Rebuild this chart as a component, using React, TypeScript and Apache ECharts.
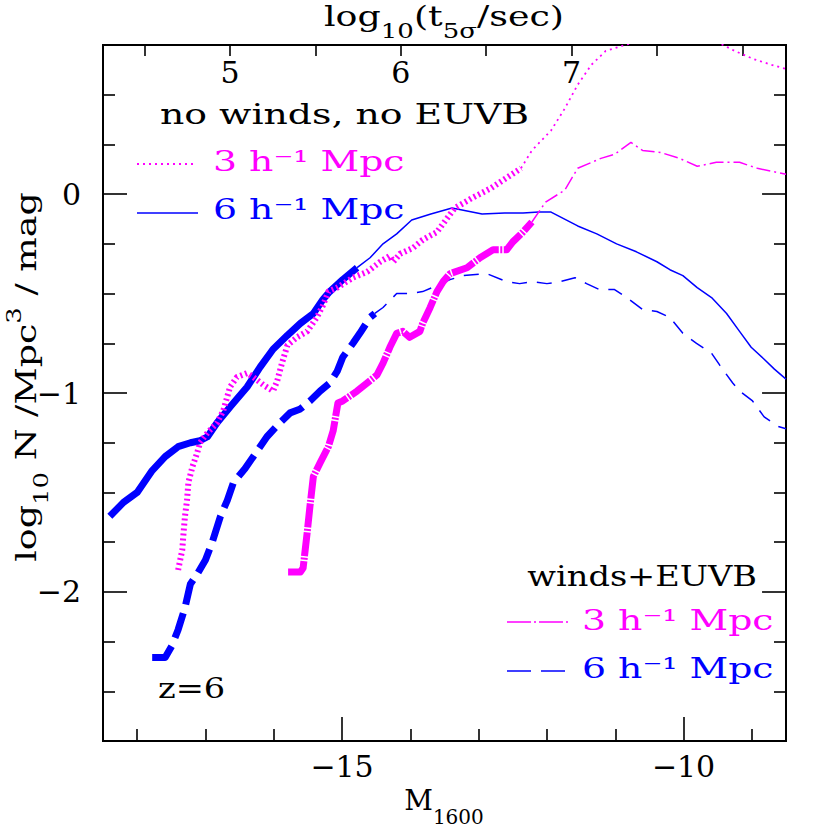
import React, { useEffect, useRef } from 'react';
import * as echarts from 'echarts';

const FONT = '"DejaVu Serif", serif';
const MAGENTA = '#ff00ff';
const BLUE = '#0000ff';

// [M1600, log10 N]  — "no winds, no EUVB", 6 h^-1 Mpc (solid)
const noWinds6Thick = [
  [-18.4, -1.62], [-18.2, -1.55], [-18.0, -1.5], [-17.78, -1.39], [-17.59, -1.32], [-17.4, -1.27],
  [-17.22, -1.25], [-17.08, -1.24], [-16.97, -1.22], [-16.83, -1.15], [-16.64, -1.07], [-16.39, -0.97],
  [-16.2, -0.87], [-16.01, -0.78], [-15.8, -0.71], [-15.61, -0.65], [-15.42, -0.6], [-15.28, -0.53],
  [-15.18, -0.49], [-14.99, -0.43], [-14.78, -0.37],
];
const noWinds6Thin = [
  [-14.78, -0.37], [-14.59, -0.32], [-14.4, -0.25], [-14.2, -0.2], [-13.98, -0.13], [-13.7, -0.1],
  [-13.39, -0.07], [-12.95, -0.1], [-12.62, -0.095], [-12.35, -0.095], [-12.12, -0.09], [-11.94, -0.09],
  [-11.55, -0.16], [-11.27, -0.2], [-10.98, -0.25], [-10.69, -0.29], [-10.39, -0.34], [-10.2, -0.38],
  [-10.01, -0.41], [-9.8, -0.47], [-9.59, -0.52], [-9.37, -0.6], [-9.18, -0.69], [-9.01, -0.77],
  [-8.82, -0.83], [-8.67, -0.88], [-8.5, -0.93],
];
// "winds+EUVB", 6 h^-1 Mpc (dashed)
const winds6Thick = [
  [-17.78, -2.33], [-17.59, -2.33], [-17.49, -2.27], [-17.4, -2.19], [-17.3, -2.08], [-17.22, -1.96],
  [-17.12, -1.91], [-17.0, -1.84], [-16.9, -1.75], [-16.78, -1.62], [-16.68, -1.54], [-16.59, -1.45],
  [-16.42, -1.38], [-16.24, -1.29], [-16.1, -1.22], [-15.91, -1.15], [-15.76, -1.1], [-15.61, -1.08],
  [-15.47, -1.04], [-15.32, -0.99], [-15.18, -0.95], [-15.07, -0.89], [-14.99, -0.82], [-14.84, -0.75],
  [-14.74, -0.7], [-14.59, -0.62], [-14.52, -0.6],
];
const winds6Thin = [
  [-14.52, -0.6], [-14.4, -0.57], [-14.2, -0.5], [-14.01, -0.5], [-13.82, -0.49], [-13.61, -0.46],
  [-13.42, -0.43], [-13.23, -0.41], [-12.88, -0.4], [-12.59, -0.44], [-12.4, -0.45], [-12.21, -0.44],
  [-12.0, -0.45], [-11.81, -0.44], [-11.59, -0.42], [-11.42, -0.45], [-11.23, -0.48], [-11.01, -0.48],
  [-10.83, -0.52], [-10.6, -0.58], [-10.39, -0.59], [-10.2, -0.62], [-10.01, -0.7], [-9.81, -0.75],
  [-9.59, -0.8], [-9.47, -0.86], [-9.28, -0.95], [-9.18, -0.99], [-8.99, -1.04], [-8.82, -1.12],
  [-8.6, -1.17], [-8.5, -1.18],
];
// "no winds, no EUVB", 3 h^-1 Mpc (dotted)
const noWinds3Thick = [
  [-17.4, -1.89], [-17.34, -1.79], [-17.32, -1.7], [-17.3, -1.62], [-17.27, -1.54], [-17.25, -1.45],
  [-17.19, -1.37], [-17.12, -1.3], [-17.08, -1.25], [-16.97, -1.2], [-16.83, -1.15], [-16.74, -1.09],
  [-16.64, -0.97], [-16.54, -0.92], [-16.39, -0.9], [-16.3, -0.92], [-16.15, -0.96], [-16.01, -0.99],
  [-15.95, -0.94], [-15.88, -0.85], [-15.8, -0.76], [-15.66, -0.72], [-15.51, -0.69], [-15.37, -0.62],
  [-15.28, -0.56], [-15.2, -0.49], [-15.07, -0.47], [-14.84, -0.42], [-14.63, -0.39], [-14.44, -0.34],
  [-14.3, -0.31], [-14.25, -0.34], [-14.15, -0.3], [-13.96, -0.27], [-13.82, -0.23], [-13.61, -0.19],
  [-13.35, -0.07], [-13.1, -0.02], [-12.82, 0.03], [-12.6, 0.08], [-12.38, 0.13],
];
const noWinds3Thin = [
  [-12.38, 0.13], [-12.22, 0.22], [-11.94, 0.32], [-11.74, 0.43], [-11.55, 0.55], [-11.35, 0.65],
  [-11.14, 0.72], [-10.86, 0.75], [-10.5, 0.78], [-10.0, 0.79], [-9.6, 0.77], [-9.42, 0.75],
  [-9.25, 0.72], [-8.98, 0.68], [-8.71, 0.65], [-8.5, 0.63],
];
// "winds+EUVB", 3 h^-1 Mpc (dash-dot)
const winds3Thick = [
  [-15.79, -1.9], [-15.61, -1.9], [-15.57, -1.88], [-15.54, -1.79], [-15.51, -1.7], [-15.47, -1.57],
  [-15.42, -1.42], [-15.32, -1.35], [-15.2, -1.27], [-15.13, -1.19], [-15.06, -1.05], [-14.99, -1.04],
  [-14.78, -0.99], [-14.49, -0.91], [-14.4, -0.85], [-14.3, -0.77], [-14.2, -0.7], [-14.11, -0.69],
  [-14.01, -0.72], [-13.86, -0.69], [-13.82, -0.65], [-13.71, -0.57], [-13.61, -0.49], [-13.52, -0.44],
  [-13.42, -0.4], [-13.17, -0.37], [-12.98, -0.32], [-12.79, -0.28], [-12.59, -0.28], [-12.5, -0.24],
  [-12.35, -0.19], [-12.22, -0.14],
];
const winds3Thin = [
  [-12.22, -0.14], [-12.02, -0.04], [-11.74, 0.02], [-11.55, 0.13], [-11.21, 0.18], [-11.01, 0.2],
  [-10.77, 0.26], [-10.6, 0.22], [-10.34, 0.21], [-10.06, 0.18], [-9.8, 0.14], [-9.52, 0.16],
  [-9.18, 0.16], [-8.92, 0.13], [-8.5, 0.1],
];

const xRange = [-18.5, -8.5];
const yRange = [-2.75, 0.75];
const topRange = [4.256, 8.256];
const xMajorTicks = [-15, -10];
const xMinorTicks = [-18, -17, -16, -14, -13, -12, -11, -9];
const yMajorTicks = [0, -1, -2];
const yMinorTicks = [0.5, 0.25, -0.25, -0.5, -0.75, -1.25, -1.5, -1.75, -2.25, -2.5];
const topTicks = [4.5, 5, 5.5, 6, 6.5, 7, 7.5, 8];
const topLabels = [5, 6, 7];

const fmtMinus = (v: number) => (v < 0 ? '\u2212' + Math.abs(v) : String(v));
const AX_LINE = { color: '#000', width: 2 };
const TICK_LINE = { color: '#000', width: 1.6 };
const LABEL = { fontSize: 30, fontFamily: FONT, color: '#000' };

function xAx(position: string, min: number, max: number, ticks: number[], len: number, labels: number[] | null, margin = 10) {
  return {
    type: 'value', position, min, max,
    axisLine: { show: true, onZero: false, lineStyle: AX_LINE },
    axisTick: { show: true, inside: true, length: len, customValues: ticks, lineStyle: TICK_LINE },
    axisLabel: labels
      ? { show: true, customValues: labels, formatter: fmtMinus, margin, inside: position === 'top', ...LABEL }
      : { show: false },
    splitLine: { show: false },
  };
}
function yAx(position: string, ticks: number[], len: number, labels: number[] | null) {
  return {
    type: 'value', position, min: yRange[0], max: yRange[1],
    axisLine: { show: true, onZero: false, lineStyle: AX_LINE },
    axisTick: { show: true, inside: true, length: len, customValues: ticks, lineStyle: TICK_LINE },
    axisLabel: labels ? { show: true, customValues: labels, formatter: fmtMinus, margin: 22, ...LABEL } : { show: false },
    splitLine: { show: false },
  };
}

function line(data: number[][], color: string, width: number, type: any) {
  return {
    type: 'line', data, symbol: 'none', showSymbol: false, silent: true, clip: true,
    xAxisIndex: 0, yAxisIndex: 0, animation: false,
    lineStyle: { color, width, type, cap: 'butt', join: 'round' },
  };
}

function txt(x: number, y: number, text: string, fill: string, opts: any = {}) {
  const { scaleX = 1.35, align = 'left', rotation = 0, size = 28, subShift = 28 } = opts;
  return {
    type: 'text', x, y, scaleX, rotation, silent: true,
    style: {
      text, fill, fontSize: size, fontFamily: FONT,
      textAlign: align, textVerticalAlign: 'middle',
      rich: {
        sub: { fontSize: 20, fontFamily: FONT, fill, color: fill, padding: [subShift, 0, 0, 0] },
        sup: { fontSize: 20, fontFamily: FONT, fill, color: fill, padding: [0, 0, 26, 0] },
      },
    },
  };
}

export default function App() {
  const ref = useRef<HTMLDivElement>(null);
  useEffect(() => {
    if (!ref.current) return;
    const chart = echarts.init(ref.current, null, { renderer: 'svg' });
    const option: any = {
      animation: false,
      backgroundColor: '#fff',
      grid: { left: 103, top: 45, right: 44, bottom: 89, containLabel: false, outerBoundsMode: 'none' },
      xAxis: [
        xAx('bottom', xRange[0], xRange[1], xMajorTicks, 24, xMajorTicks, 10),
        xAx('bottom', xRange[0], xRange[1], xMinorTicks, 12, null),
        xAx('top', topRange[0], topRange[1], topTicks, 11, topLabels, 12),
      ],
      yAxis: [
        yAx('left', yMajorTicks, 24, yMajorTicks),
        yAx('left', yMinorTicks, 12, null),
        yAx('right', yMajorTicks, 24, null),
        yAx('right', yMinorTicks, 12, null),
      ],
      series: [
        line(noWinds6Thick, BLUE, 7, 'solid'),
        line(noWinds6Thin, BLUE, 1.5, 'solid'),
        line(noWinds3Thick, MAGENTA, 6, [2, 3]),
        line(noWinds3Thin, MAGENTA, 1.8, [2, 4]),
        line(winds6Thick, BLUE, 7, [26, 9]),
        line(winds6Thin, BLUE, 1.5, [15, 10]),
        line(winds3Thick, MAGENTA, 7, [24, 1.5, 2, 1.5]),
        line(winds3Thin, MAGENTA, 1.5, [14, 4, 2, 4]),
      ],
      graphic: [
        // axis titles
        txt(444, 17, 'log{sub|10}(t{sub|5\u03c3}/sec)', '#000', { align: 'center', scaleX: 1.3 }),
        txt(444, 800, 'M{sub|1600}', '#000', { align: 'center', scaleX: 1.0, subShift: 34 }),
        txt(27, 377, 'log{sub|10} N /Mpc{sup|3} / mag', '#000', { align: 'center', scaleX: 1.3, rotation: Math.PI / 2 }),
        // legend, top left
        txt(160, 114, 'no winds, no EUVB', '#000'),
        { type: 'line', silent: true, shape: { x1: 137, y1: 164, x2: 196, y2: 164 }, style: { stroke: MAGENTA, lineWidth: 1.8, lineDash: [2, 4] } },
        txt(213, 161, '3 h\u207b\u00b9 Mpc', MAGENTA),
        { type: 'line', silent: true, shape: { x1: 137, y1: 213, x2: 198, y2: 213 }, style: { stroke: BLUE, lineWidth: 1.5 } },
        txt(213, 209, '6 h\u207b\u00b9 Mpc', BLUE),
        // legend, bottom right
        txt(757, 576, 'winds+EUVB', '#000', { align: 'right', scaleX: 1.2 }),
        { type: 'line', silent: true, shape: { x1: 507, y1: 622, x2: 568, y2: 622 }, style: { stroke: MAGENTA, lineWidth: 1.5, lineDash: [24, 3, 2, 3] } },
        txt(582, 620, '3 h\u207b\u00b9 Mpc', MAGENTA),
        { type: 'line', silent: true, shape: { x1: 507, y1: 671, x2: 568, y2: 671 }, style: { stroke: BLUE, lineWidth: 1.5, lineDash: [24, 10] } },
        txt(582, 668, '6 h\u207b\u00b9 Mpc', BLUE),
        txt(158, 688, 'z=6', '#000', { scaleX: 1.2 }),
      ],
    };
    chart.setOption(option);
    return () => chart.dispose();
  }, []);
  return <div ref={ref} style={{ position: 'fixed', left: 0, top: 0, width: 830, height: 830, background: '#fff' }} />;
}
